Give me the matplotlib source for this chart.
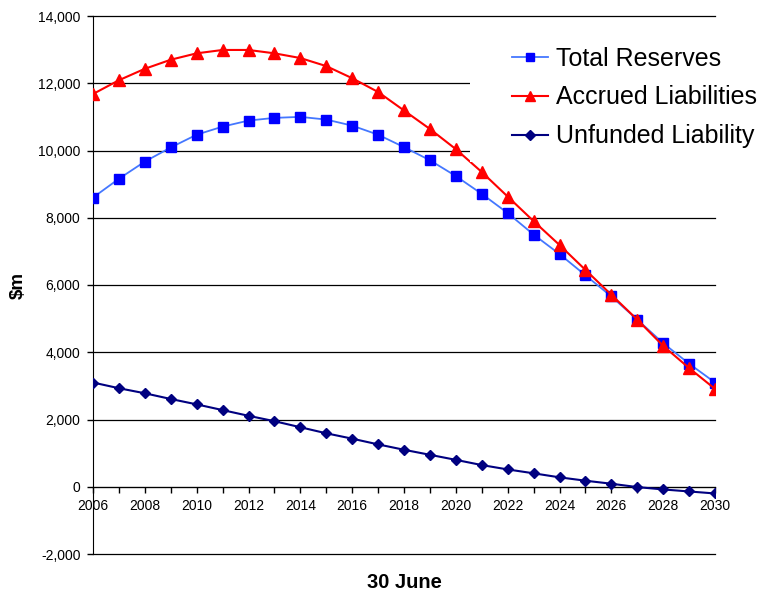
import matplotlib
matplotlib.use("Agg")
import matplotlib.pyplot as plt
from matplotlib.patches import Rectangle

years = list(range(2006, 2031))
total_reserves = [8600, 9160, 9670, 10090, 10470, 10710, 10890, 10970, 11000, 10920, 10740,
                  10470, 10100, 9710, 9240, 8710, 8140, 7500, 6920, 6290, 5660, 4970, 4270, 3660, 3100]
accrued_liabilities = [11680, 12090, 12430, 12700, 12890, 12990, 12990, 12890, 12750, 12510, 12150,
                       11740, 11190, 10640, 10040, 9360, 8630, 7900, 7190, 6450, 5710, 4970, 4190, 3530, 2910]
unfunded_liability = [3100, 2930, 2780, 2610, 2450, 2280, 2110, 1950, 1770, 1590, 1430,
                      1260, 1100, 950, 800, 645, 515, 400, 280, 180, 90, -10, -80, -140, -200]
y_ticks = list(range(-2000, 14001, 2000))
x_label_years = list(range(2006, 2031, 2))

plt.rcParams['font.family'] = ['Liberation Sans', 'DejaVu Sans']

W, H = 757, 595
fig = plt.figure(figsize=(W / 100, H / 100), dpi=100)
ax = fig.add_axes([93 / W, 1 - 554 / H, (715 - 93) / W, (554 - 16) / H])

ax.plot(years, total_reserves, color='#4477FF', lw=1.3, marker='s', ms=7.5,
        mfc='#0000FF', mec='#0000FF', label='Total Reserves', zorder=4)
ax.plot(years, accrued_liabilities, color='#FF0000', lw=1.5, marker='^', ms=8.5,
        mfc='#FF0000', mec='#FF0000', label='Accrued Liabilities', zorder=5)
ax.plot(years, unfunded_liability, color='#000080', lw=1.5, marker='D', ms=5.5,
        mfc='#000080', mec='#000080', label='Unfunded Liability', zorder=4)

ax.set_ylim(-2000, 14000)
ax.set_xlim(2006, 2030)
ax.set_yticks(y_ticks)
ax.set_yticklabels([f"{v:,}" for v in y_ticks])
ax.set_xticks(years)
ax.set_xticklabels([str(y) if y in x_label_years else '' for y in years])
ax.tick_params(axis='both', labelsize=10, length=4, width=1, direction='out', color='black')
ax.tick_params(axis='x', pad=4.5)
ax.tick_params(axis='y', pad=5)
for v in y_ticks:
    ax.axhline(v, color='black', lw=0.9, zorder=0, clip_on=False)

for s in ['top', 'right', 'bottom']:
    ax.spines[s].set_visible(False)
ax.spines['bottom'].set_visible(True)
ax.spines['bottom'].set_position(('data', 0))
ax.spines['bottom'].set_color('black')
ax.spines['left'].set_color('black')

fig.text(18 / W, 1 - 285 / H, '$m', fontsize=13.5, fontweight='bold',
         rotation=90, ha='center', va='center')
fig.text(404.5 / W, 1 - 583 / H, '30 June', fontsize=14.5, fontweight='bold',
         ha='center', va='center')

# white legend background covering gridlines
fig.patches.append(Rectangle((470 / W, 1 - 162 / H), (W - 470) / W, (162 - 28) / H,
                             transform=fig.transFigure, facecolor='white', edgecolor='none', zorder=2))

leg = fig.legend(loc='upper left', bbox_to_anchor=(512 / W, 1 - 46.5 / H), frameon=False,
                 fontsize=18, handlelength=1.45, handletextpad=0.32, labelspacing=0.6,
                 borderpad=0, borderaxespad=0)
leg.set_zorder(3)
for h, ms in zip(leg.legend_handles, [6, 6.5, 5]):
    h.set_markersize(ms)

fig.savefig('out.png', dpi=100)
